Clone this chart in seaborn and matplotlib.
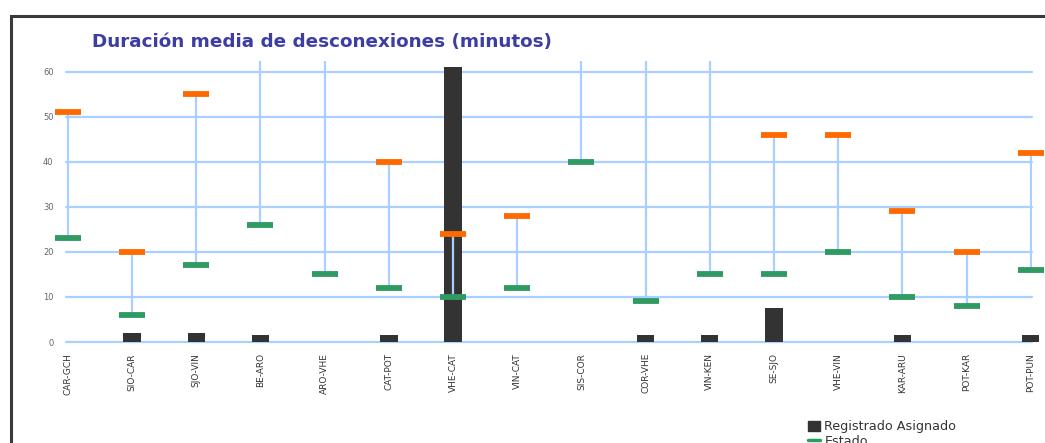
import numpy as np
import pandas as pd
import matplotlib
matplotlib.use("Agg")
import matplotlib.pyplot as plt
from matplotlib.patches import Rectangle
from matplotlib.lines import Line2D
import seaborn as sns

# Links (categories)
enlaces = ["CAR-GCH", "SIO-CAR", "SJO-VIN", "BE-ARO", "ARO-VHE", "CAT-POT",
           "VHE-CAT", "VIN-CAT", "SIS-COR", "COR-VHE", "VIN-KEN", "SE-SJO",
           "VHE-VIN", "KAR-ARU", "POT-KAR", "POT-PUN"]

# Recorded / assigned mean duration (bars)
registrado = [0, 2, 2, 1.5, 0, 1.5, 61, 0, 0, 1.5, 1.5, 7.5, 0, 1.5, 0, 1.5]

# Lower reference value (green) and upper reference value (orange)
estado = [23, 6, 17, 26, 15, 12, 10, 12, 40, 9, 15, 15, 20, 10, 8, 16]
maximo = [51, 20, 55, np.nan, np.nan, 40, 24, 28, np.nan, np.nan, np.nan,
          46, 46, 29, 20, 42]

y_ticks = [0, 10, 20, 30, 40, 50, 60]

df = pd.DataFrame({"enlace": enlaces, "registrado": registrado,
                   "estado": estado, "maximo": maximo})

sns.set_style("white")
plt.rcParams["font.family"] = ["DejaVu Sans"]

fig = plt.figure(figsize=(10.45, 4.43), dpi=100)
ax = fig.add_axes([66 / 1045, 101 / 443, 966 / 1045, 281 / 443])

grid_blue = "#a9d1ff"
orange = "#ff6a00"
green = "#2f9a62"

sns.barplot(data=df, x="enlace", y="registrado", color="#333333",
            width=0.27, saturation=1, linewidth=0, ax=ax, zorder=2)
for bar in ax.patches:
    bar.set_clip_on(False)

ax.set_xlim(-0.03, 15.02)
ax.set_ylim(0, 62.4)
ymax = ax.get_ylim()[1]

pos = np.arange(len(enlaces))
est = df["estado"].to_numpy()
top = df["maximo"].to_numpy()
line_top = np.where(np.isnan(top), ymax, top)

# high-low connectors
ax.vlines(pos, est, line_top, color=grid_blue, lw=1.6, zorder=3)

# caps
ax.plot(pos, top, linestyle="none", marker="_", markersize=18.5,
        markeredgewidth=4.2, color=orange, zorder=4, clip_on=False)
ax.plot(pos, est, linestyle="none", marker="_", markersize=18.5,
        markeredgewidth=4.2, color=green, zorder=4, clip_on=False)

# horizontal grid
ax.set_yticks(y_ticks)
for t in y_ticks:
    ax.axhline(t, color=grid_blue, lw=1.6, zorder=1, clip_on=False)
ax.grid(False)

ax.tick_params(axis="y", length=0, pad=9, labelsize=6, labelcolor="#666666")
ax.tick_params(axis="x", length=0, pad=8, labelsize=6.5, labelcolor="#333333",
               labelrotation=90)
ax.set_xlabel("")
ax.set_ylabel("")
for s in ax.spines.values():
    s.set_visible(False)
ax.patch.set_alpha(0)

fig.text(92 / 1045, 1 - 42 / 443, "Duración media de desconexiones (minutos)",
         fontsize=13.2, fontweight="bold", color="#3d3da3", va="center",
         ha="left")

handles = [Rectangle((0, 0), 1, 1, facecolor="#333333", edgecolor="#333333"),
           Line2D([0], [0], color=green, lw=2.5)]
fig.legend(handles, ["Registrado Asignado", "Estado"], loc="upper left",
           bbox_to_anchor=(802 / 1045, 1 - 414 / 443), frameon=False,
           fontsize=9.2, handlelength=0.9, handleheight=0.9,
           handletextpad=0.35, labelspacing=0.1, borderpad=0,
           labelcolor="#333333")

# outer frame of the chart area
fig.patches.append(Rectangle((11 / 1045, -0.1), 1.2, 1 - 16 / 443 + 0.1,
                             transform=fig.transFigure, fill=False,
                             edgecolor="#3a3a3a", lw=2.2))

fig.savefig("out.png", dpi=100)
